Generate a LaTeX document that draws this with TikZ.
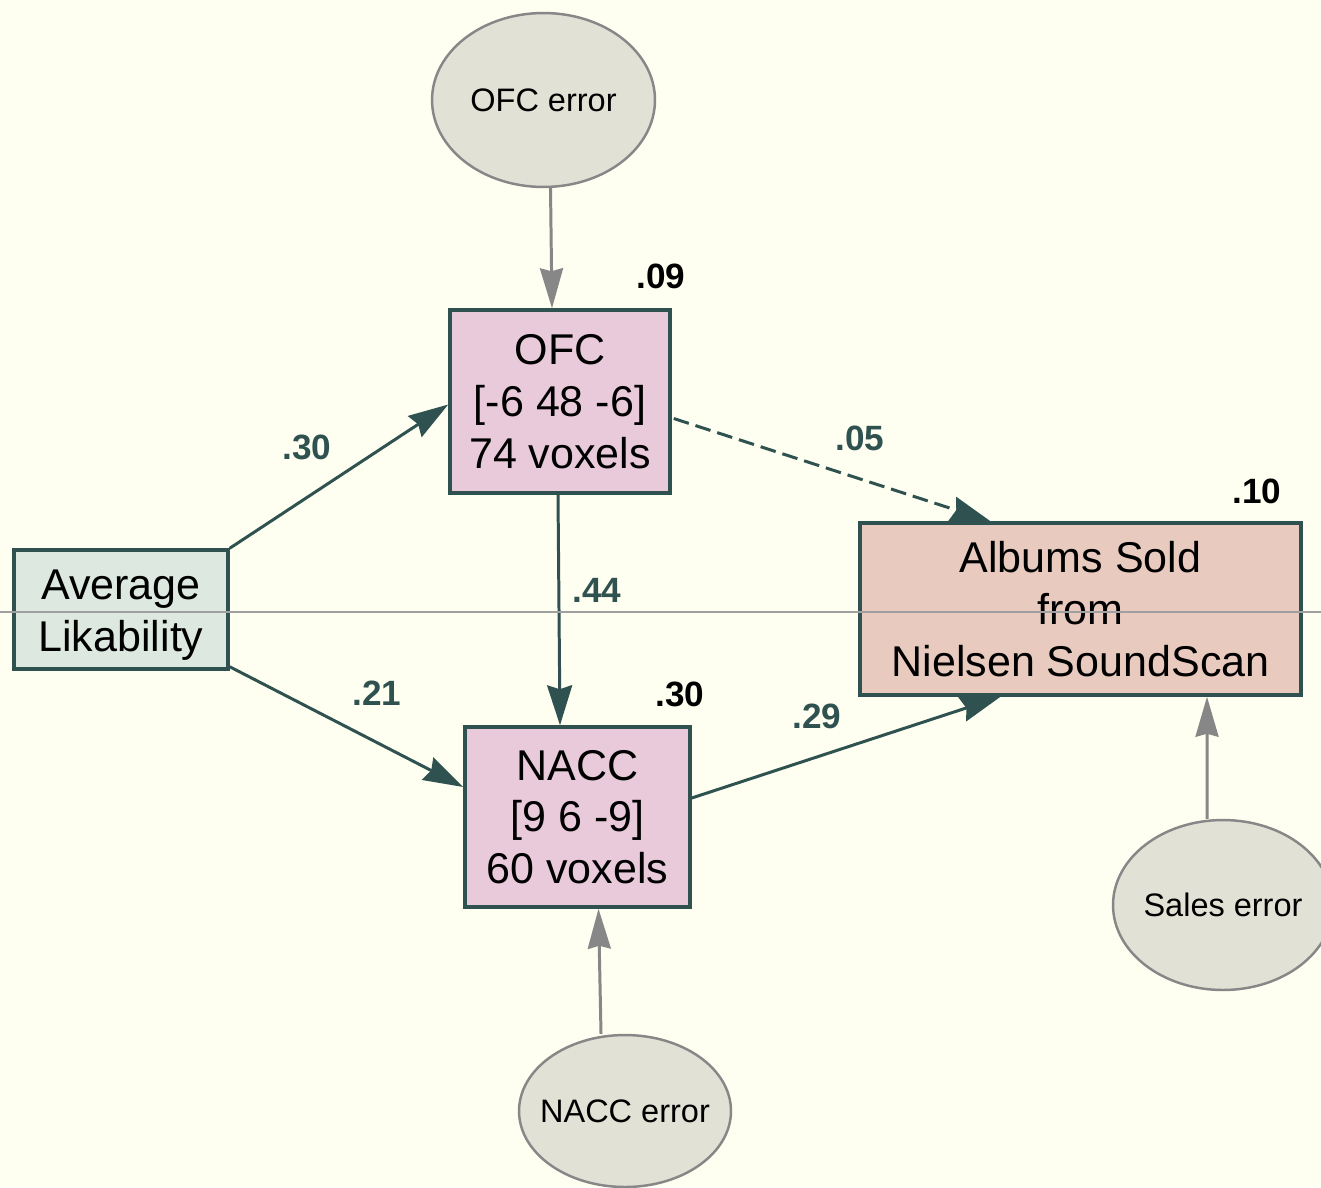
\documentclass[tikz,border=0pt]{standalone}
\usepackage{fontspec}
\setmainfont{Liberation Sans}
\usetikzlibrary{shapes.geometric,arrows.meta,calc}
\definecolor{bgc}{RGB}{254,255,240}
\definecolor{slate}{RGB}{47,82,80}
\definecolor{avgfill}{RGB}{221,233,224}
\definecolor{brainfill}{RGB}{233,202,219}
\definecolor{albfill}{RGB}{232,203,190}
\definecolor{errfill}{RGB}{225,225,214}
\definecolor{errline}{RGB}{135,135,135}
\definecolor{sepline}{RGB}{160,160,160}
\tikzset{
  boxnode/.style={draw=slate, line width=2pt, rectangle, inner sep=0pt, align=center,
    font=\fontsize{24.5}{29.5}\selectfont},
  errnode/.style={draw=errline, line width=1.4pt, ellipse, fill=errfill, inner sep=0pt},
  errtext/.style={font=\fontsize{18.5}{22}\selectfont, inner sep=0pt},
  patharrow/.style={draw=slate, line width=1.7pt, -{Stealth[length=0.8cm, width=0.5cm, inset=0.08cm]}},
  errarrow/.style={draw=errline, line width=1.7pt, -{Stealth[length=0.8cm, width=0.46cm, inset=0.06cm]}},
  coef/.style={text=slate, font=\bfseries\fontsize{20}{24}\selectfont, inner sep=0pt},
  rsq/.style={text=black, font=\bfseries\fontsize{20}{24}\selectfont, inner sep=0pt},
}
\begin{document}
\begin{tikzpicture}[x=0.02cm, y=-0.02cm]
\fill[bgc] (0,0) rectangle (1321,1187);
\useasboundingbox (0,0) rectangle (1321,1187);
\clip (0,0) rectangle (1321,1187);

\node[boxnode, fill=avgfill, minimum width=4.28cm, minimum height=2.38cm] (avg) at (121,609.5) {\rule{0pt}{23.5pt}Average\\Likability};
\node[boxnode, fill=brainfill, minimum width=4.4cm, minimum height=3.66cm] (ofc) at (560,401.5) {OFC\\{[-6 48 -6]}\\74 voxels};
\node[boxnode, fill=brainfill, minimum width=4.5cm, minimum height=3.6cm] (nacc) at (577.5,817) {NACC\\{[9 6 -9]}\\60 voxels};
\node[boxnode, fill=albfill, minimum width=8.82cm, minimum height=3.44cm] (alb) at (1080.5,609) {Albums Sold\\from\\Nielsen SoundScan};

\node[errnode, minimum width=4.46cm, minimum height=3.48cm, label={[errtext]center:OFC error}] (oe) at (543.5,100) {};
\node[errnode, minimum width=4.24cm, minimum height=3.04cm, label={[errtext]center:NACC error}] (ne) at (625,1111) {};
\node[errnode, minimum width=4.4cm, minimum height=3.4cm, label={[errtext]center:Sales error}] (se) at (1223,905) {};

\draw[patharrow] (avg.north east) -- ($(ofc.west)+(0,3)$);
\draw[patharrow] ($(avg.south east)+(0,-4)$) -- ($(nacc.west)+(0,-30)$);
\draw[patharrow] ($(ofc.south)+(-2,0)$) -- ($(ofc.south |- nacc.north)$);
\draw[patharrow, dashed, dash pattern=on 9pt off 4pt] ($(ofc.east)+(2,17)$) -- ($(alb.north)+(-90,0)$);
\draw[patharrow] ($(nacc.east)+(0,-19)$) -- ($(alb.south)+(-80,0)$);

\draw[errarrow] ($(oe.south)+(7,0)$) -- ($(ofc.north)+(-8,0)$);
\draw[errarrow] ($(ne.north)+(-24,0)$) -- ($(nacc.south)+(21,0)$);
\draw[errarrow] ($(se.north)+(-16,0)$) -- ($(alb.south)+(126.5,0)$);

\node[coef] (c1) at (307,447) {.30};
\node[coef] (c2) at (860,438) {.05};
\node[coef] (c3) at (597,590) {.44};
\node[coef] (c4) at (377,693) {.21};
\node[coef] (c5) at (817,716) {.29};

\node[rsq] (r1) at (661,276) {.09};
\node[rsq] (r2) at (1257,491) {.10};
\node[rsq] (r3) at (680,694) {.30};

\draw[sepline, line width=0.6pt] (0,612) -- (1321,612);
\end{tikzpicture}
\end{document}
